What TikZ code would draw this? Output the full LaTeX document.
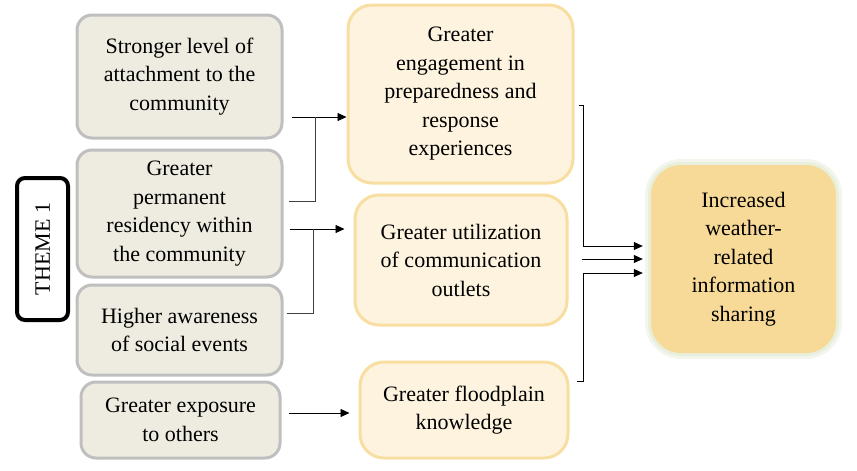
\documentclass[tikz,border=0pt]{standalone}
\usepackage{fontspec}
\setmainfont{Liberation Serif}
\usetikzlibrary{arrows.meta,positioning}
\definecolor{tanfill}{RGB}{238,236,225}
\definecolor{tanline}{RGB}{191,191,191}
\definecolor{goldfill}{RGB}{253,243,223}
\definecolor{goldline}{RGB}{248,222,160}
\definecolor{goldmain}{RGB}{248,218,152}
\definecolor{glowgreen}{RGB}{226,236,212}

\begin{document}
\begin{tikzpicture}
        [x=1pt,y=-1pt,
         font=\fontsize{22}{28.5}\selectfont,
         factor/.style={draw=tanline, fill=tanfill, line width=3pt, rounded corners=15pt, align=center, inner sep=0pt},
         effect/.style={draw=goldline, fill=goldfill, line width=3pt, rounded corners=24pt, align=center, inner sep=0pt},
         outcome/.style={fill=goldmain, rounded corners=30pt, align=center, inner sep=0pt,
           preaction={draw=glowgreen!45, line width=12pt, rounded corners=30pt},
           preaction={draw=glowgreen!80, line width=6pt, rounded corners=30pt}},
         theme/.style={draw=black, line width=4pt, rounded corners=8pt, fill=white},
         link/.style={->, >={Triangle[length=9pt,width=8pt]}, line width=0.8pt},
         joint/.style={line width=0.8pt, draw=black!75}]
        \useasboundingbox (0,0) rectangle (857,471);
        %\draw[help lines] (0,0) grid[step=50] (857,471);
        \node[theme, minimum width=51pt, minimum height=142pt] (theme) at (42.5,249) {};
        \node[rotate=90] (themetxt) at (theme.center) {THEME 1};
        \node[factor, minimum width=205pt, minimum height=123pt] (attach) at (179.5,76.5)
          {Stronger level of\\attachment to the\\community};
        \node[factor, minimum width=205pt, minimum height=127pt] (resid) at (179.5,213.5)
          {Greater\\permanent\\residency within\\the community};
        \node[factor, minimum width=205pt, minimum height=90pt] (aware) at (179.5,330)
          {Higher awareness\\of social events};
        \node[factor, minimum width=199pt, minimum height=76pt] (expos) at (180.5,420)
          {Greater exposure\\to others};
        \node[effect, minimum width=225pt, minimum height=178pt] (engage) at (460.5,94)
          {Greater\\engagement in\\preparedness and\\response\\experiences};
        \node[effect, minimum width=212pt, minimum height=130pt] (util) at (461,260)
          {Greater utilization\\of communication\\outlets};
        \node[effect, minimum width=208pt, minimum height=96pt] (flood) at (464,410)
          {Greater floodplain\\knowledge};
        \node[outcome, minimum width=185pt, minimum height=188pt] (share) at (743.5,259)
          {Increased\\weather-\\related\\information\\sharing};
        % theme factors to effects
        \draw[link] ([shift={(8,40.5)}]attach.east) -- ([shift={(0,23)}]engage.west);
        \draw[joint] ([shift={(5,-12.5)}]resid.east) -| ([shift={(-31,23)}]engage.west);
        \draw[link] ([shift={(6,15.5)}]resid.east) -- ([shift={(-9,-31)}]util.west);
        \draw[joint] ([shift={(3,-17)}]aware.east) -| ([shift={(-40,-31)}]util.west);
        \draw[link] ([shift={(7,-7)}]expos.east) -- ([shift={(-9,3)}]flood.west);
        % effects to outcome
        \draw[link] ([shift={(4,11)}]engage.east) -- ++(5,0) |- ([shift={(-8,-13)}]share.west);
        \draw[link] ([shift={(13,-1)}]util.east) -- ([shift={(-8,0)}]share.west);
        \draw[link] ([shift={(7,-29)}]flood.east) -- ++(7,0) |- ([shift={(-8,14)}]share.west);
\end{tikzpicture}
\end{document}
